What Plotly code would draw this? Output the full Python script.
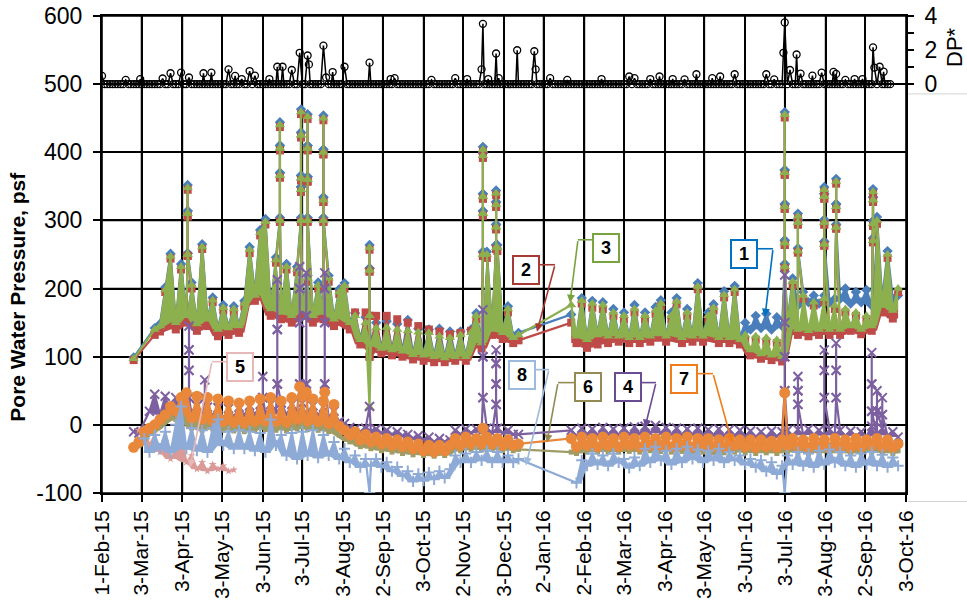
import pandas as pd
import plotly.graph_objects as go

FONT = "Liberation Sans, Arial, sans-serif"
N = None

# ---- piezometer readings (psf), one reading every 4 days from 25-Feb-15 ----
obs_dates = pd.date_range("2015-02-25", periods=146, freq="4D").strftime("%Y-%m-%d").tolist()

pwp_1 = ([99, N, N, N, 142, 148, 202, 251, 152, 236,
          162, 209, 150, 265, 157, 187, 142, 176, 144, 174,
          147, 182, 261, 194, 286, 302, 172, 246, 167, 236,
          162, 232, 172, 219, 162, 209, 167, 219, 157, 199,
          208, 152, 164, 127, 158, 120, 150, 114, 152, 112,
          148, 110, 154, 105, 141, 104, 140, 102, 141, 100,
          137, 102, 137, 102, 140, 164, 124, 254, 142, 264,
          137, 174, 130, 135, N, N, N, N, N, N,
          N, N, N, 162, 132, 186, 127, 182, 134, 180,
          132, 170, 132, 165, 130, 176, 130, 165, 132, 173,
          183, 132, 165, 186, 130, 170, 132, 208, 132, 165,
          177, 130, 196, 130, 204, 128, 150, 140, 160, 142,
          163, 140, 158, 145, 150, 215, 175, 195, 180, 190,
          178, 190, 180, 185, 185, 200, 178, 195, 180, 198,
          175, 305, 185, 255, 185, 190])

pwp_2 = ([95, N, N, N, 132, 137, 195, 244, 140, 228,
          150, 200, 138, 258, 145, 180, 130, 168, 132, 166,
          135, 174, 252, 182, 278, 294, 160, 238, 155, 228,
          150, 224, 160, 210, 150, 200, 155, 210, 145, 192,
          200, 140, 165, 118, 165, 110, 160, 105, 160, 102,
          155, 100, 150, 96, 145, 94, 140, 92, 137, 92,
          133, 94, 135, 94, 138, 155, 112, 245, 132, 255,
          126, 165, 120, 124, N, N, N, N, N, N,
          N, N, N, 150, 120, 178, 113, 172, 118, 170,
          120, 160, 122, 155, 120, 165, 120, 155, 122, 163,
          174, 122, 155, 177, 120, 160, 122, 199, 122, 155,
          168, 120, 187, 120, 195, 118, 125, 102, 125, 97,
          122, 95, 120, 93, 138, 205, 132, 185, 130, 175,
          132, 180, 132, 170, 132, 165, 138, 160, 133, 155,
          138, 295, 165, 245, 156, 195])

pwp_3 = ([97, N, N, N, 140, 145, 198, 247, 150, 232,
          160, 205, 148, 261, 155, 183, 140, 172, 142, 170,
          145, 178, 257, 190, 282, 298, 170, 242, 165, 232,
          160, 228, 170, 215, 160, 205, 165, 215, 155, 195,
          204, 150, 160, 125, 150, 118, 142, 112, 143, 110,
          140, 108, 138, 103, 136, 102, 135, 100, 130, 98,
          128, 100, 132, 100, 135, 160, 120, 250, 140, 260,
          135, 170, 128, 132, N, N, N, N, N, N,
          N, N, N, 176, 130, 182, 125, 178, 132, 176,
          130, 165, 130, 160, 128, 170, 128, 160, 130, 168,
          178, 130, 160, 181, 128, 165, 130, 203, 130, 160,
          172, 128, 191, 128, 199, 125, 132, 110, 130, 104,
          128, 102, 125, 100, 145, 210, 140, 190, 138, 180,
          140, 185, 140, 175, 140, 170, 145, 165, 140, 160,
          145, 300, 175, 250, 168, 200])

pwp_4 = ([-10, -12, N, 20, 45, 15, 42, 18, 40, 20,
          30, 15, 28, 12, 26, 14, 25, 10, 24, 12,
          26, 14, 28, 15, 30, 16, 30, 18, 32, 15,
          30, 18, 32, 15, 28, 14, 26, 10, 20, 5,
          2, -4, -6, -10, -5, -10, -6, -12, -8, -14,
          -10, -16, -14, -20, -16, -22, -18, -25, -20, -25,
          -22, -8, -14, -6, -12, -6, -10, -5, -12, -5,
          -12, -8, -14, -14, N, N, N, N, N, N,
          N, N, N, -8, -16, -5, -14, -6, -15, -4,
          -14, -6, -15, -5, -14, -3, -13, -2, -12, -1,
          -12, -4, -14, -5, -15, -6, -14, -5, -15, -7,
          -15, -6, -16, -7, -16, -8, -17, -9, -18, -10,
          -18, -9, -17, -10, -8, -16, -7, -15, -6, -15,
          -8, -16, -7, -15, -8, -16, -9, -17, -10, -17,
          -2, -15, -5, -16, -10, -18])

pwp_5 = ([N, -8, -5, -30, -15, -40, -25, -50, -35, -10,
          -55, -45, -65, -55, -68, -58, -65, -60, -68, -66]
         + [N] * 126)

pwp_6 = ([-35, -30, -18, -12, -8, -2, 5, 12, 8, 22,
          20, -5, 18, -8, 15, -6, 12, -8, 10, -9,
          8, -10, 10, -8, 12, -7, 15, -8, 10, -9,
          15, -6, 15, -7, 12, -8, 10, -10, 5, -15,
          -20, -25, -22, -32, -26, -35, -30, -38, -32, -40,
          -34, -42, -36, -44, -38, -45, -40, -46, -40, -45,
          -40, -30, -38, -28, -36, -30, -37, -28, -36, -30,
          -38, -32, -38, -36, N, N, N, N, N, N,
          N, N, N, -40, -42, -30, -40, -32, -40, -30,
          -40, -32, -40, -30, -39, -32, -40, -30, -38, -32,
          -39, -30, -40, -32, -39, -30, -40, -32, -40, -32,
          -41, -33, -41, -32, -40, -33, -41, -34, -42, -33,
          -41, -34, -42, -33, -40, -32, -41, -33, -42, -32,
          -41, -33, -42, -32, -41, -33, -42, -32, -41, -33,
          -40, -32, -41, -33, -42, -38])

pwp_7 = ([-33, -25, -10, -5, 0, 8, 15, 27, 20, 40,
          47, 10, 42, 8, 40, 6, 38, 5, 35, 4,
          32, 3, 35, 5, 38, 6, 40, 5, 35, 4,
          40, 8, 42, 6, 38, 5, 35, 2, 30, -2,
          -8, -15, -10, -22, -14, -25, -18, -28, -20, -30,
          -22, -32, -25, -35, -28, -38, -30, -40, -30, -38,
          -30, -20, -30, -18, -28, -20, -28, -18, -28, -20,
          -30, -22, -30, -28, N, N, N, N, N, N,
          N, N, N, -20, -32, -18, -30, -20, -32, -18,
          -30, -20, -32, -18, -30, -20, -32, -18, -30, -20,
          -30, -18, -32, -20, -30, -18, -32, -20, -30, -20,
          -32, -22, -32, -20, -30, -22, -32, -22, -33, -22,
          -32, -24, -33, -22, -30, -20, -32, -22, -33, -20,
          -32, -22, -33, -20, -32, -22, -33, -20, -32, -22,
          -30, -20, -32, -22, -33, -28])

pwp_8 = ([N, N, -20, -40, -15, -35, -10, -40, 0, 27,
          -35, -5, -38, -8, -40, -5, 8, -30, -10, -35,
          -8, -35, -10, -38, -12, -40, 8, -30, -15, -45,
          -12, -50, -10, -45, -8, -48, -15, -45, -25, -50,
          -35, -55, -45, -62, -50, -60, -50, -62, -55, -68,
          -62, -75, -68, -83, -72, -82, -70, -80, -68, -78,
          -65, -45, -55, -42, -55, -40, -52, -38, -55, -40,
          -55, -45, -55, -50, N, N, N, N, N, N,
          N, N, N, N, -85, -52, -60, -42, -58, -45,
          -60, -42, -55, -50, -63, -48, -60, -35, -55, -32,
          -52, -38, -58, -35, -55, -32, -50, -36, -55, -38,
          -52, -35, -55, -40, -52, -45, -58, -50, -62, -52,
          -68, -55, -72, -60, -45, -58, -40, -60, -42, -62,
          -38, -58, -36, -55, -40, -60, -45, -62, -42, -58,
          -40, -60, -44, -62, -48, -60])

# ---- short-lived pressure surges: date -> readings logged during the surge ----
spikes_1 = {"2015-04-07": [252, 314, 352], "2015-06-16": [304, 370, 410, 444],
            "2015-07-02": [304, 349, 366, 429, 463], "2015-07-07": [304, 364, 410, 456],
            "2015-07-19": [304, 334, 404, 454], "2015-08-23": [160, 230, 264],
            "2015-11-17": [254, 314, 339, 399, 408], "2015-11-27": [264, 294, 327, 344],
            "2016-07-03": [236, 271, 324, 374, 459], "2016-07-13": [259, 301, 310],
            "2016-08-02": [269, 301, 339, 349], "2016-08-11": [294, 324, 361],
            "2016-09-08": [274, 299, 334, 346]}
spikes_2 = {"2015-04-07": [248, 306, 345], "2015-06-16": [298, 363, 403, 437],
            "2015-07-02": [298, 342, 359, 422, 456], "2015-07-07": [298, 357, 403, 449],
            "2015-07-19": [298, 327, 397, 447], "2015-08-23": [100, 160, 225, 257],
            "2015-11-17": [248, 307, 332, 392, 401], "2015-11-27": [258, 287, 320, 337],
            "2016-07-03": [230, 264, 317, 367, 451], "2016-07-13": [253, 294, 303],
            "2016-08-02": [263, 294, 332, 342], "2016-08-11": [288, 317, 354],
            "2016-09-08": [268, 292, 327, 339]}
spikes_3 = {"2015-04-07": [250, 310, 348], "2015-06-16": [300, 366, 406, 440],
            "2015-07-02": [300, 345, 362, 425, 459], "2015-07-07": [300, 360, 406, 452],
            "2015-07-19": [300, 330, 400, 450], "2015-08-23": [25, 160, 227, 260],
            "2015-11-17": [250, 310, 335, 395, 404], "2015-11-27": [260, 290, 323, 340],
            "2016-07-03": [232, 267, 320, 370, 455], "2016-07-13": [255, 297, 306],
            "2016-08-02": [265, 297, 335, 345], "2016-08-11": [290, 320, 357],
            "2016-09-08": [270, 295, 330, 342]}
spikes_4 = {"2015-04-08": [40, 80, 110, 145], "2015-04-20": [40, 66],
            "2015-06-03": [40, 71], "2015-06-14": [60, 140, 213],
            "2015-07-01": [60, 150, 200, 232], "2015-07-06": [60, 160, 223],
            "2015-07-20": [60, 150, 200, 223], "2015-08-23": [27],
            "2015-11-17": [40, 100, 169], "2015-11-27": [30, 60, 90, 110],
            "2016-07-03": [50, 100, 150, 220], "2016-07-13": [30, 50, 71],
            "2016-08-02": [40, 80, 110], "2016-08-11": [40, 80, 120],
            "2016-09-07": [20, 60, 106], "2016-09-11": [20, 50], "2016-09-15": [15, 40]}
spikes_7 = {"2015-07-01": [56], "2015-07-06": [48], "2015-07-20": [48],
            "2015-11-17": [-5], "2016-07-03": [47]}
spikes_8 = {"2015-08-23": [-100], "2016-07-03": [-100]}

# ---- DP* (right axis): non-zero readings; every other logged day reads 0 ----
dp_event_dates = ["2015-02-01", "2015-02-19", "2015-03-02", "2015-03-19", "2015-03-25",
                  "2015-04-02", "2015-04-08", "2015-04-19", "2015-04-25", "2015-05-08",
                  "2015-05-13", "2015-05-18", "2015-05-24", "2015-05-28", "2015-06-08",
                  "2015-06-14", "2015-06-18", "2015-06-25", "2015-07-01", "2015-07-07",
                  "2015-07-08", "2015-07-19", "2015-07-21", "2015-07-26", "2015-08-04",
                  "2015-08-23", "2015-09-08", "2015-09-11", "2015-10-09", "2015-10-27",
                  "2015-11-05", "2015-11-16", "2015-11-17", "2015-11-21", "2015-11-27",
                  "2015-11-29", "2015-12-13", "2015-12-26", "2015-12-27", "2016-01-07",
                  "2016-01-20", "2016-02-15", "2016-03-07", "2016-03-11", "2016-03-23",
                  "2016-03-30", "2016-04-09", "2016-04-18", "2016-04-27", "2016-05-09",
                  "2016-05-15", "2016-05-26", "2016-06-19", "2016-06-25", "2016-07-02",
                  "2016-07-03", "2016-07-07", "2016-07-12", "2016-07-15", "2016-07-24",
                  "2016-07-31", "2016-08-09", "2016-08-11", "2016-08-18", "2016-08-25",
                  "2016-08-31", "2016-09-08", "2016-09-09", "2016-09-13", "2016-09-16"]
dp_event_values = [0.48, 0.25, 0.29, 0.33, 0.64, 0.68, 0.39, 0.64, 0.68, 0.87,
                   0.48, 0.30, 0.77, 0.50, 0.30, 1.02, 1.02, 0.83, 1.84, 1.68,
                   1.16, 2.26, 0.39, 0.71, 1.02, 1.26, 0.30, 0.35, 0.25, 0.35,
                   0.30, 0.87, 3.54, 0.30, 1.80, 0.35, 1.99, 1.93, 0.87, 0.35,
                   0.25, 0.30, 0.45, 0.35, 0.30, 0.45, 0.30, 0.28, 0.58, 0.35,
                   0.45, 0.58, 0.58, 0.28, 1.84, 3.62, 0.83, 1.74, 0.62, 0.50,
                   0.68, 0.72, 0.60, 0.25, 0.30, 0.30, 2.16, 0.97, 1.02, 0.73]
dp_log_days = pd.date_range("2015-02-01", "2016-09-21", freq="2D").strftime("%Y-%m-%d").tolist()

tick_labels = ["1-Feb-15", "3-Mar-15", "3-Apr-15", "3-May-15", "3-Jun-15", "3-Jul-15",
               "3-Aug-15", "2-Sep-15", "3-Oct-15", "2-Nov-15", "3-Dec-15", "2-Jan-16",
               "2-Feb-16", "3-Mar-16", "3-Apr-16", "3-May-16", "3-Jun-16", "3-Jul-16",
               "3-Aug-16", "2-Sep-16", "3-Oct-16"]
tick_vals = pd.to_datetime(tick_labels, format="%d-%b-%y").strftime("%Y-%m-%d").tolist()
psf_ticks = [-100, 0, 100, 200, 300, 400, 500, 600]
psf_labels = ["-100", "0", "100", "200", "300", "400", "500", "600"]
X_RANGE = [tick_vals[0], tick_vals[-1]]
PSF_RANGE = [psf_ticks[0], psf_ticks[-1]]


def build(values, spikes):
    """Merge the regular readings with the surge readings, in time order."""
    pts = [(d, v) for d, v in zip(obs_dates, values) if v is not None]
    for day, levels in spikes.items():
        path = list(levels) + list(levels[:-1])[::-1]
        pts.extend((day, v) for v in path)
    pts.sort(key=lambda p: p[0])
    return [p[0] for p in pts], [p[1] for p in pts]


def band(values):
    """Closed outline between the readings and their running minimum,
    one polygon per run of consecutive readings."""
    v = pd.Series(values, dtype=float)
    lo = v.rolling(3, center=True, min_periods=1).min()
    ok = v.notna().to_numpy()
    xs, ys = [], []
    i, n = 0, len(v)
    while i < n:
        if not ok[i]:
            i += 1
            continue
        j = i
        while j < n and ok[j]:
            j += 1
        d = obs_dates[i:j]
        xs += d + d[::-1] + [None]
        ys += [float(a) for a in v.iloc[i:j]] + [float(a) for a in lo.iloc[i:j]][::-1] + [None]
        i = j
    return xs, ys


series = [
    (pwp_1, spikes_1, "#4A7EBB", dict(symbol="diamond", size=8)),
    (pwp_2, spikes_2, "#BE4B48", dict(symbol="square", size=8)),
    (pwp_3, spikes_3, "#8DB04F", dict(symbol="triangle-up", size=9)),
    (pwp_4, spikes_4, "#7D60A0", dict(symbol="x-thin", size=9)),
    (pwp_5, {}, "#DA9A98", dict(symbol="star", size=6)),
    (pwp_6, {}, "#A09C66", dict(symbol="square", size=5)),
    (pwp_7, spikes_7, "#E9873A", dict(symbol="circle", size=11)),
    (pwp_8, spikes_8, "#8EAAD6", dict(symbol="cross-thin", size=8)),
]

fig = go.Figure()

# grid drawn first so every series sits on top of it
gx, gy = [], []
for tv in tick_vals:
    gx += [tv, tv, None]
    gy += [PSF_RANGE[0], PSF_RANGE[1], None]
for pv in psf_ticks:
    gx += [X_RANGE[0], X_RANGE[1], None]
    gy += [pv, pv, None]
fig.add_trace(go.Scatter(x=gx, y=gy, mode="lines", line=dict(color="black", width=1.6),
                         hoverinfo="skip"))

for vals, spk, col, mk in series:
    bx, by = band(vals)
    fig.add_trace(go.Scatter(x=bx, y=by, mode="lines", line=dict(width=0, color=col),
                             fill="toself", fillcolor=col, hoverinfo="skip"))
    xs, ys = build(vals, spk)
    marker = dict(color=col, **mk)
    if mk["symbol"].endswith("thin"):
        marker["line"] = dict(color=col, width=2)
    else:
        marker["line"] = dict(width=0)
    fig.add_trace(go.Scatter(x=xs, y=ys, mode="lines+markers",
                             line=dict(color=col, width=2.2), marker=marker,
                             hoverinfo="skip"))

dp = {d: 0.0 for d in dp_log_days}
for d, v in zip(dp_event_dates, dp_event_values):
    dp[d] = v
dp_x = sorted(dp)
dp_y = [dp[d] for d in dp_x]
fig.add_trace(go.Scatter(x=dp_x, y=dp_y, yaxis="y2", mode="lines+markers",
                         line=dict(color="black", width=1.5),
                         marker=dict(symbol="circle-open", size=7, color="black",
                                     line=dict(width=1.3, color="black")),
                         hoverinfo="skip"))

# ---- plot-area geometry (pixels) used to place the callouts ----
L, R, T, B = 102, 906, 16, 493.5


def xp(px):
    return (px - L) / (R - L)


def yp(py):
    return (B - py) / (B - T)


# label, colour, box centre, leader start, bend, arrow tip (all in pixels)
callouts = [
    ("1", "#0070C0", (744, 254), (758, 249), (773, 249), (765, 317)),
    ("2", "#A83A36", (526, 270.5), (539, 265), (555, 265), (537, 332)),
    ("3", "#79A33F", (606, 248.5), (593, 240), (578, 240), (570, 303)),
    ("5", "#E6B9B8", (240, 367), (227, 362), (212, 362), (190, 468)),
    ("8", "#9DB9DE", (521.5, 375), (535, 370), (549, 370), (526, 466)),
    ("6", "#948A54", (587.5, 387.5), (574, 383), (558, 383), (547, 443)),
    ("4", "#6A4C93", (627.5, 387.5), (642, 383), (656, 383), (645, 428)),
    ("7", "#F07D1A", (684, 379.5), (697, 374), (713, 374), (732, 443)),
]

shapes = []
annotations = []
for lab, col, (cx, cy), (sx, sy), (bx_, by_), (tx, ty) in callouts:
    shapes.append(dict(type="line", xref="paper", yref="paper",
                       x0=xp(sx), y0=yp(sy), x1=xp(bx_), y1=yp(by_),
                       line=dict(color=col, width=1.6)))
    annotations.append(dict(x=xp(tx), y=yp(ty), xref="paper", yref="paper",
                            ax=bx_ - tx, ay=by_ - ty, axref="pixel", ayref="pixel",
                            showarrow=True, arrowhead=2, arrowsize=1, arrowwidth=1.6,
                            arrowcolor=col, text="", standoff=0))
    annotations.append(dict(x=xp(cx), y=yp(cy), xref="paper", yref="paper",
                            text="<b>%s</b>" % lab, showarrow=False,
                            font=dict(family=FONT, size=18, color="black"),
                            bgcolor="white", bordercolor=col, borderwidth=2,
                            borderpad=3, width=18, height=20,
                            xanchor="center", yanchor="middle"))

annotations.append(dict(x=xp(18), y=yp(297), xref="paper", yref="paper",
                        text="<b>Pore Water Pressure, psf</b>", textangle=-90,
                        showarrow=False, font=dict(family=FONT, size=21, color="black"),
                        xanchor="center", yanchor="middle"))
annotations.append(dict(x=xp(955), y=yp(47), xref="paper", yref="paper",
                        text="DP*", textangle=-90, showarrow=False,
                        font=dict(family=FONT, size=22, color="black"),
                        xanchor="center", yanchor="middle"))

# faint cell borders to the right of the plot
for gyy in (94, 502):
    shapes.append(dict(type="line", xref="paper", yref="paper",
                       x0=xp(908), x1=xp(967), y0=yp(gyy), y1=yp(gyy),
                       line=dict(color="#D4D4D4", width=1)))

axis_common = dict(ticks="outside", tickcolor="black", tickwidth=2,
                   showline=True, linecolor="black", linewidth=2, zeroline=False,
                   automargin=False)

fig.update_layout(
    width=967, height=607,
    margin=dict(l=L, r=967 - R, t=T, b=114),
    paper_bgcolor="white", plot_bgcolor="white", showlegend=False,
    font=dict(family=FONT, size=22, color="black"),
    xaxis=dict(range=X_RANGE, tickvals=tick_vals,
               ticktext=tick_labels, tickangle=-90, ticklen=7, mirror=True,
               showgrid=True, gridcolor="black", gridwidth=1.6,
               tickfont=dict(family=FONT, size=21, color="black"), **axis_common),
    yaxis=dict(range=PSF_RANGE, tickvals=psf_ticks, ticktext=psf_labels, ticklen=7,
               ticklabelstandoff=6, showgrid=True, gridcolor="black", gridwidth=1.6,
               tickfont=dict(family=FONT, size=23, color="black"), **axis_common),
    yaxis2=dict(overlaying="y", side="right", range=[-24, 4],
                tickvals=[0, 1, 2, 3, 4], ticktext=["0", "", "2", "", "4"],
                ticklen=6, ticklabelstandoff=6, showgrid=False,
                tickfont=dict(family=FONT, size=23, color="black"), **axis_common),
    annotations=annotations,
    shapes=shapes,
)

fig.write_html("out.html")
